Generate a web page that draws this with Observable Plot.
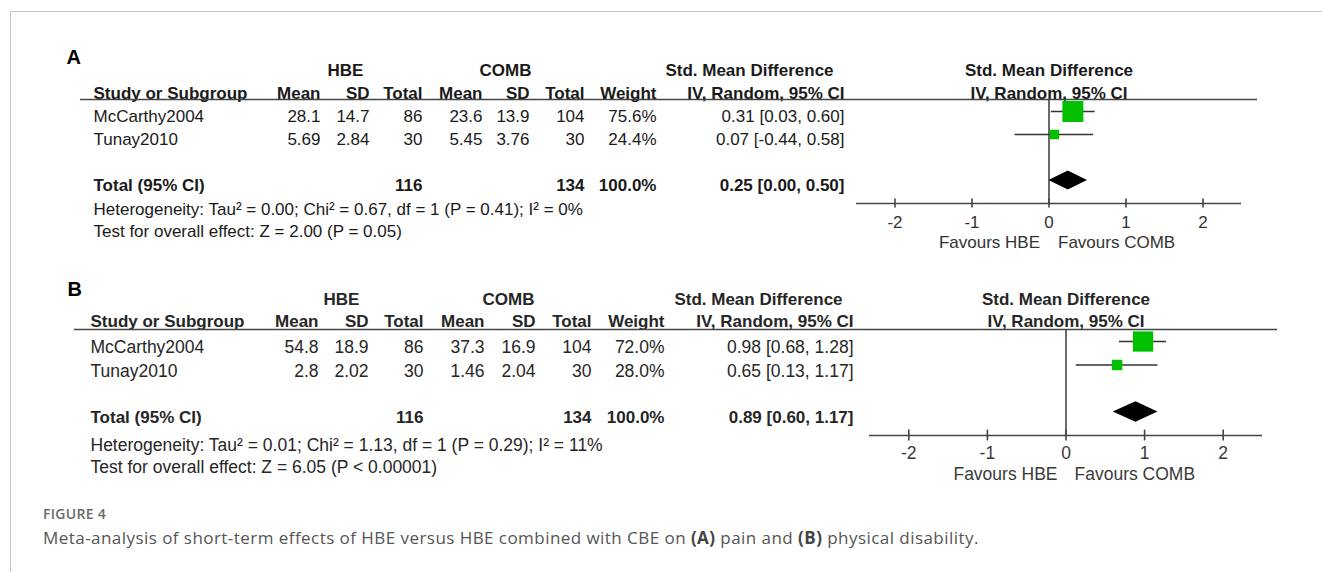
<!DOCTYPE html>
<html><head><meta charset="utf-8">
<script src="https://cdn.jsdelivr.net/npm/d3@7"></script>
<script src="https://cdn.jsdelivr.net/npm/@observablehq/plot@0.6"></script>
<style>
html,body{margin:0;padding:0;background:#fff;width:1322px;height:572px;overflow:hidden;}
#frame{position:absolute;left:10px;top:11px;width:1312px;height:561px;border-left:1.5px solid #c4c4c4;border-top:1.5px solid #c4c4c4;box-sizing:border-box;}
#panelA{position:absolute;left:0;top:40px;}
#panelB{position:absolute;left:0;top:270px;}
#figlabel{position:absolute;left:43px;top:507px;font-family:"Open Sans",sans-serif;font-weight:600;font-size:14px;line-height:14px;letter-spacing:0.3px;color:#6a6a6a;white-space:nowrap;}
#caption{position:absolute;left:43px;top:528.5px;font-family:"Open Sans",sans-serif;font-size:17px;line-height:17px;letter-spacing:0.45px;color:#555;white-space:nowrap;}
#caption b{font-weight:700;color:#444;}
</style>
</head><body>
<div id="frame"></div>
<div id="panelA"></div>
<div id="panelB"></div>
<div id="figlabel">FIGURE 4</div>
<div id="caption">Meta-analysis of short-term effects of HBE versus HBE combined with CBE on <b>(A)</b> pain and <b>(B)</b> physical disability.</div>
<script>
// ---------- data ----------
const studies = ["McCarthy2004", "Tunay2010"];
const ticks = [-2, -1, 0, 1, 2];

// Panel A: pain
const hbeMeanA = ["28.1", "5.69"];
const hbeSdA = ["14.7", "2.84"];
const hbeTotalA = [86, 30];
const combMeanA = ["23.6", "5.45"];
const combSdA = ["13.9", "3.76"];
const combTotalA = [104, 30];
const weightA = [75.6, 24.4];
const smdA = [0.31, 0.07];
const loA = [0.03, -0.44];
const hiA = [0.60, 0.58];
const totalA = [116, 134, 100.0, 0.25, 0.00, 0.50]; // nHBE, nCOMB, weight, smd, lo, hi
const hetA = "Heterogeneity: Tau\u00b2 = 0.00; Chi\u00b2 = 0.67, df = 1 (P = 0.41); I\u00b2 = 0%";
const testA = "Test for overall effect: Z = 2.00 (P = 0.05)";

// Panel B: physical disability
const hbeMeanB = ["54.8", "2.8"];
const hbeSdB = ["18.9", "2.02"];
const hbeTotalB = [86, 30];
const combMeanB = ["37.3", "1.46"];
const combSdB = ["16.9", "2.04"];
const combTotalB = [104, 30];
const weightB = [72.0, 28.0];
const smdB = [0.98, 0.65];
const loB = [0.68, 0.13];
const hiB = [1.28, 1.17];
const totalB = [116, 134, 100.0, 0.89, 0.60, 1.17];
const hetB = "Heterogeneity: Tau\u00b2 = 0.01; Chi\u00b2 = 1.13, df = 1 (P = 0.29); I\u00b2 = 11%";
const testB = "Test for overall effect: Z = 6.05 (P < 0.00001)";

const groupHeaders = ["HBE", "COMB", "Std. Mean Difference"];
const colHeaders = ["Mean", "SD", "Total", "Mean", "SD", "Total", "Weight", "IV, Random, 95% CI"];

// ---------- drawing ----------
const f2 = v => v.toFixed(2);
const ci = (e, l, h) => `${f2(e)} [${f2(l)}, ${f2(h)}]`;

function panel(el, D, L) {
  const rows = studies.map((s, i) => ({
    row: i + 1, study: s,
    c: [D.hm[i], D.hs[i], String(D.hn[i]), D.cm[i], D.cs[i], String(D.cn[i]),
        D.w[i].toFixed(1) + "%", ci(D.smd[i], D.lo[i], D.hi[i])],
    w: D.w[i], smd: D.smd[i], lo: D.lo[i], hi: D.hi[i]
  }));
  const T = D.total;
  const totalRow = 4;
  const totalCells = [null, null, String(T[0]), null, null, String(T[1]), T[2].toFixed(1) + "%", ci(T[3], T[4], T[5])];
  const diamond = [
    {x: T[4], y1: totalRow, y2: totalRow},
    {x: T[3], y1: totalRow - L.dh, y2: totalRow + L.dh},
    {x: T[5], y1: totalRow, y2: totalRow}
  ];
  const txt = {fill: L.ink, fontSize: L.fs, fontFamily: L.font, lineAnchor: "middle"};
  const bold = {...txt, fontWeight: "bold", fontSize: L.fsb};
  const marks = [];
  // panel letter
  marks.push(Plot.text([D.label], {frameAnchor: "top-left", dx: L.labelX, dy: L.labelY, lineAnchor: "middle", fontSize: 20, fontWeight: "bold", fill: "#000", fontFamily: L.font}));
  // group headers
  const gx = L.groupX;
  groupHeaders.forEach((g, i) => marks.push(Plot.text([g], {...bold, frameAnchor: "top-left", dx: gx[i], dy: L.h1, textAnchor: "middle"})));
  marks.push(Plot.text([groupHeaders[2]], {...bold, x: 0, frameAnchor: "top", dy: L.h1, textAnchor: "middle"}));
  // column headers
  marks.push(Plot.text(["Study or Subgroup"], {...bold, frameAnchor: "top-left", dx: L.studyX, dy: L.h2, textAnchor: "start"}));
  colHeaders.forEach((h, j) => marks.push(Plot.text([h], {...bold, frameAnchor: "top-left", dx: L.cols[j], dy: L.h2, textAnchor: "end"})));
  marks.push(Plot.text([colHeaders[7]], {...bold, x: 0, frameAnchor: "top", dy: L.h2, textAnchor: "middle"}));
  // header rule
  marks.push(Plot.ruleY([L.ruleRow], {insetLeft: L.ruleL, insetRight: L.ruleR, stroke: L.line, strokeWidth: 1.6}));
  // study rows
  marks.push(Plot.text(rows, {...txt, y: "row", text: "study", frameAnchor: "left", dx: L.studyX, dy: L.rowDy, textAnchor: "start"}));
  L.cols.forEach((cx, j) => marks.push(Plot.text(rows, {...txt, y: "row", text: d => d.c[j], frameAnchor: "left", dx: cx, dy: L.rowDy, textAnchor: "end"})));
  // total row
  marks.push(Plot.text(["Total (95% CI)"], {...bold, y: [totalRow], frameAnchor: "left", dx: L.studyX, dy: L.rowDy, textAnchor: "start"}));
  totalCells.forEach((t, j) => { if (t) marks.push(Plot.text([t], {...bold, y: [totalRow], frameAnchor: "left", dx: L.cols[j], dy: L.rowDy, textAnchor: "end"})); });
  // footnotes
  marks.push(Plot.text([D.het], {...txt, frameAnchor: "top-left", dx: L.studyX, dy: L.f1, textAnchor: "start"}));
  marks.push(Plot.text([D.test], {...txt, frameAnchor: "top-left", dx: L.studyX, dy: L.f2, textAnchor: "start"}));
  // forest
  const axisRow = 5;
  marks.push(Plot.ruleX([0], {y1: L.ruleRow, y2: axisRow, stroke: L.line, strokeWidth: 1.6}));
  marks.push(Plot.ruleY([axisRow], {x1: L.dom[0], x2: L.dom[1], stroke: L.line, strokeWidth: 1.6}));
  marks.push(Plot.ruleX(ticks, {x: d => d, y1: axisRow - L.tk, y2: axisRow + L.tk, stroke: L.line, strokeWidth: 1.6}));
  marks.push(Plot.text(ticks, {...txt, fill: L.ink2, x: d => d, y: ticks.map(() => axisRow), text: d => String(d), dy: L.tickDy}));
  marks.push(Plot.text(["Favours HBE"], {...txt, fill: L.ink2, x: [0], y: [axisRow], dx: -L.favGap, dy: L.favDy, textAnchor: "end"}));
  marks.push(Plot.text(["Favours COMB"], {...txt, fill: L.ink2, x: [0], y: [axisRow], dx: L.favGap, dy: L.favDy, textAnchor: "start"}));
  marks.push(Plot.ruleY(rows, {y: "row", x1: "lo", x2: "hi", stroke: "#333", strokeWidth: 1.5}));
  marks.push(Plot.dot(rows, {x: "smd", y: "row", r: "w", symbol: "square", fill: "#00c000", stroke: "none"}));
  marks.push(Plot.areaY(diamond, {x: "x", y1: "y1", y2: "y2", fill: "#000"}));

  const chart = Plot.plot({
    width: 1322, height: 215,
    marginLeft: 0, marginRight: 0, marginTop: 0, marginBottom: 0,
    style: {background: "transparent", overflow: "visible"},
    x: {domain: L.dom, range: L.xr, axis: null},
    y: {domain: [1, 5], range: L.yr, axis: null},
    r: {type: "pow", exponent: 0.7, domain: [0, 100], range: [0, 14.4]},
    marks
  });
  document.getElementById(el).appendChild(chart);
}

panel("panelA",
  {label: "A", hm: hbeMeanA, hs: hbeSdA, hn: hbeTotalA, cm: combMeanA, cs: combSdA, cn: combTotalA,
   w: weightA, smd: smdA, lo: loA, hi: hiA, total: totalA, het: hetA, test: testA},
  {font: "'Liberation Sans', Arial, sans-serif", fs: 17, fsb: 17, ink: "#1a1a1a", ink2: "#333", line: "#444",
   labelX: 66, labelY: 17, groupX: [345, 505, 749], h1: 30, h2: 53, studyX: 93,
   cols: [320, 369, 422, 482, 529, 584, 656, 844], ruleRow: 0.478, ruleL: 80, ruleR: 65,
   rowDy: 5.5, f1: 169.5, f2: 191.5, dom: [-2.5, 2.5], xr: [856, 1241], yr: [71, 163],
   tk: 0.2, tickDy: 19, favDy: 39, favGap: 9, dh: 0.41});

panel("panelB",
  {label: "B", hm: hbeMeanB, hs: hbeSdB, hn: hbeTotalB, cm: combMeanB, cs: combSdB, cn: combTotalB,
   w: weightB, smd: smdB, lo: loB, hi: hiB, total: totalB, het: hetB, test: testB},
  {font: "'Liberation Sans', Arial, sans-serif", fs: 17.5, fsb: 17, ink: "#262626", ink2: "#3a3a3a", line: "#444",
   labelX: 67, labelY: 19, groupX: [341, 508, 758], h1: 29, h2: 51.5, studyX: 90,
   cols: [318, 368, 423, 484, 535, 591, 664, 853], ruleRow: 0.489, ruleL: 74, ruleR: 45,
   rowDy: 6, f1: 175, f2: 196.5, dom: [-2.5, 2.5], xr: [869, 1262], yr: [71, 165],
   tk: 0.23, tickDy: 18, favDy: 39, favGap: 8.5, dh: 0.44});
</script>
</body></html>
